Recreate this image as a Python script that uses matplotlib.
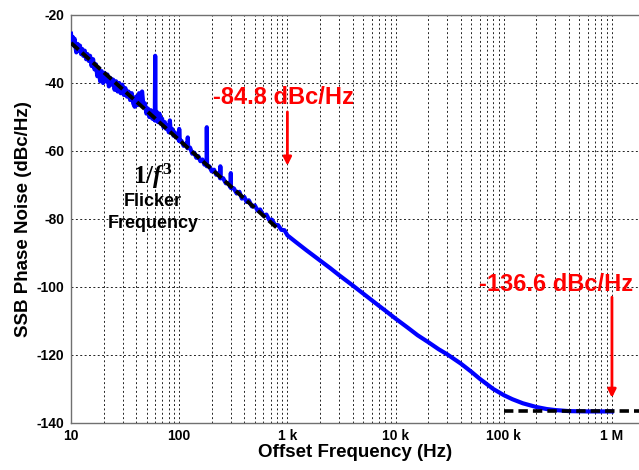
import matplotlib
matplotlib.use('Agg')
import matplotlib.pyplot as plt
from matplotlib.ticker import LogLocator, NullFormatter, FixedLocator, FixedFormatter

freq = [10.0, 10.2, 10.4, 10.6, 10.8, 11.0, 11.2, 11.5, 11.8, 12.1, 12.4, 12.7, 13.0,
        13.4, 13.8, 14.2, 14.6, 15.0, 15.5, 16.0, 16.5, 17.0, 17.5, 18.0, 18.6, 19.2,
        19.8, 20.4, 21.0, 21.7, 22.4, 23.1, 23.8, 24.5, 25.3, 26.1, 27.0, 27.9, 28.8,
        29.8, 30.8, 31.8, 32.9, 34.0, 35.2, 36.4, 37.6, 38.8, 40.0, 41.3, 42.6, 44.0,
        45.4, 46.8, 48.3, 49.8, 51.4, 53.0, 54.7, 56.4, 58.2, 59.5, 60.0, 60.5, 62.0,
        63.8, 65.6, 67.5, 69.5, 71.5, 73.6, 75.8, 78.0, 80.2, 82.0, 83.5, 86.0, 88.5,
        91.0, 94.0, 97.0, 99.5, 100.0, 101.0, 105.0, 110.0, 115.0, 119.5, 120.0, 121.0,
        126.0, 132.0, 138.0, 144.0, 150.0, 157.0, 164.0, 171.0, 178.0, 179.5, 180.0,
        181.0, 190.0, 200.0, 210.0, 220.0, 230.0, 239.0, 240.0, 241.0, 255.0, 270.0,
        285.0, 299.0, 300.0, 301.0, 320.0, 340.0, 360.0, 380.0, 400.0, 420.0, 440.0,
        470.0, 500.0, 530.0, 560.0, 600.0, 640.0, 680.0, 720.0, 770.0, 820.0, 880.0,
        940.0, 1000.0, 1200.0, 1500.0, 2000.0, 2500.0, 3000.0, 4000.0, 5000.0, 6000.0,
        7000.0, 8000.0, 10000.0, 13000.0, 16000.0, 20000.0, 25000.0, 30000.0, 40000.0,
        50000.0, 60000.0, 70000.0, 80000.0, 100000.0, 120000.0, 150000.0, 200000.0,
        250000.0, 300000.0, 400000.0, 600000.0, 1000000.0]
noise = [-25.5, -28.5, -26.5, -29.0, -27.0, -29.5, -31.0, -28.5, -30.5, -29.0, -31.5, -30.0, -32.0,
         -30.5, -33.0, -31.5, -33.5, -32.0, -35.0, -33.0, -36.0, -34.5, -38.0, -35.5, -39.5, -36.5,
         -40.0, -37.0, -39.5, -37.5, -41.0, -38.5, -40.5, -39.0, -42.0, -39.5, -42.5, -40.0, -43.0,
         -40.5, -43.5, -41.5, -44.0, -42.5, -45.0, -43.0, -46.0, -47.0, -44.0, -46.5, -43.0, -45.5,
         -42.5, -47.0, -46.0, -49.0, -47.5, -50.0, -48.0, -50.5, -49.0, -51.0, -32.0, -51.0, -48.5,
         -51.5, -49.0, -52.0, -50.5, -53.0, -51.5, -53.5, -52.5, -54.5, -51.0, -54.5, -53.5, -55.5,
         -54.5, -56.0, -55.5, -57.0, -53.5, -57.0, -57.0, -58.5, -57.8, -59.2, -56.0, -59.0,
         -59.0, -60.8, -60.5, -62.0, -61.5, -63.0, -62.5, -64.0, -63.5, -64.3, -53.0,
         -64.5, -64.5, -66.0, -65.5, -67.0, -66.5, -68.0, -64.5, -68.0, -68.0, -69.5,
         -69.5, -70.8, -66.5, -70.8, -71.0, -72.5, -72.0, -74.0, -73.5, -75.0, -74.5,
         -76.3, -76.0, -77.5, -77.2, -79.0, -78.7, -80.3, -80.2, -81.8, -81.8, -83.2,
         -83.3, -84.8, -86.8, -89.2, -92.2, -94.5, -96.5, -99.5, -101.9, -103.9,
         -105.5, -106.9, -109.3, -112.0, -114.2, -116.2, -118.3, -119.8, -122.5,
         -124.9, -127.0, -128.6, -130.0, -131.8, -133.0, -134.2, -135.3,
         -135.9, -136.2, -136.5, -136.6, -136.6]

# 1/f^3 flicker asymptote and thermal floor (black dashed)
flicker_f = [10, 800]
flicker_db = [-28.2, -82.6]
floor_f = [1e5, 1.8e6]
floor_db = [-136.6, -136.6]

xticks = [10, 100, 1e3, 1e4, 1e5, 1e6]
xticklabels = ['10', '100', '1 k', '10 k', '100 k', '1 M']
yticks = [-140, -120, -100, -80, -60, -40, -20]

plt.rcParams['font.family'] = ['Liberation Sans', 'DejaVu Sans']
plt.rcParams['font.weight'] = 'bold'
plt.rcParams['axes.unicode_minus'] = False
plt.rcParams['mathtext.fontset'] = 'custom'
plt.rcParams['mathtext.rm'] = 'Liberation Serif:bold'
plt.rcParams['mathtext.it'] = 'Liberation Serif:italic:bold'

fig = plt.figure(figsize=(6.39, 4.70), dpi=100)
ax = fig.add_axes([71/639, 47/470, 568/639, 408/470])

ax.set_xscale('log')
ax.plot(freq, noise, color='#0000ff', lw=3.0, solid_joinstyle='round', zorder=3)
ax.plot(flicker_f, flicker_db, color='black', lw=2.8, ls=(0, (2.6, 1.2)), zorder=4)
ax.plot(floor_f, floor_db, color='black', lw=2.6, ls=(0, (2.6, 1.4)), zorder=4)

ax.set_xlim(10, 10**6.25)
ax.set_ylim(-140, -20)

ax.xaxis.set_major_locator(FixedLocator(xticks))
ax.xaxis.set_major_formatter(FixedFormatter(xticklabels))
ax.xaxis.set_minor_locator(LogLocator(base=10, subs=[2, 3, 4, 5, 6, 7, 8, 9], numticks=20))
ax.xaxis.set_minor_formatter(NullFormatter())
ax.set_yticks(yticks)
ax.set_yticklabels([str(v) for v in yticks])

gkw = dict(color='#222222', lw=0.7, ls=(0, (2, 2.5)))
ax.grid(True, which='major', axis='both', **gkw)
ax.grid(True, which='minor', axis='x', **gkw)
ax.set_axisbelow(True)

ax.tick_params(which='both', length=0, labelsize=10)
ax.tick_params(axis='x', pad=4)
ax.tick_params(axis='y', pad=5)
for lab in ax.get_xticklabels() + ax.get_yticklabels():
    lab.set_fontweight('bold')

for s in ['left', 'bottom', 'top']:
    ax.spines[s].set_color('#707070')
    ax.spines[s].set_linewidth(1.0)
ax.spines['right'].set_visible(False)

ax.set_xlabel('Offset Frequency (Hz)', fontsize=13.5, fontweight='bold', labelpad=1)
ax.set_ylabel('SSB Phase Noise (dBc/Hz)', fontsize=13.5, fontweight='bold', labelpad=3)

# annotations
ax.text(10**1.76, -67.6, r'$1/f^3$', fontsize=18, ha='center', va='center')
ax.text(10**1.76, -74.9, 'Flicker', fontsize=13, fontweight='bold', ha='center', va='center')
ax.text(10**1.76, -81.4, 'Frequency', fontsize=13, fontweight='bold', ha='center', va='center')

ax.text(10**2.31, -44.3, '-84.8 dBc/Hz', color='#ff0000', fontsize=17, fontweight='bold',
        ha='left', va='center')
ax.annotate('', xy=(1e3, -64.3), xytext=(1e3, -48.5),
            arrowprops=dict(arrowstyle='-|>', color='#ff0000', lw=2, mutation_scale=12,
                            shrinkA=0, shrinkB=0))
ax.text(10**4.77, -99.4, '-136.6 dBc/Hz', color='#ff0000', fontsize=17, fontweight='bold',
        ha='left', va='center')
ax.annotate('', xy=(1e6, -132.6), xytext=(1e6, -103.0),
            arrowprops=dict(arrowstyle='-|>', color='#ff0000', lw=2, mutation_scale=12,
                            shrinkA=0, shrinkB=0))

fig.savefig('out.png', dpi=100)
